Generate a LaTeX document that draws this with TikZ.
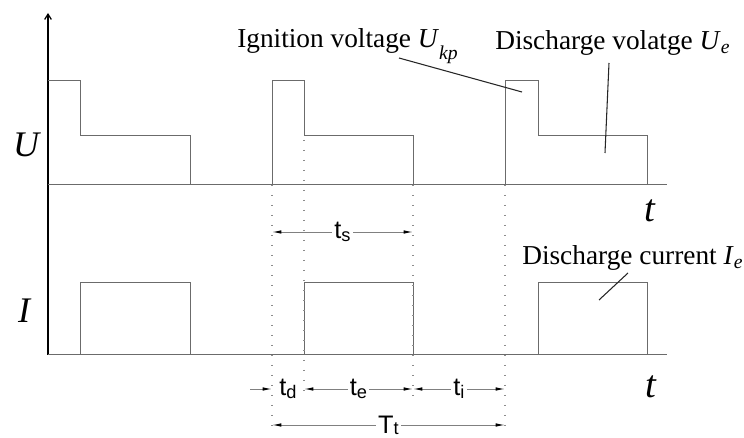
\documentclass[tikz,border=0pt]{standalone}
\usepackage{fontspec}
\setmainfont{Liberation Serif}
\setsansfont{Liberation Sans}
\usetikzlibrary{arrows.meta}
\newcommand{\lowsub}[2][0.3em]{\raisebox{-#1}{\scalebox{0.72}{#2}}}
\tikzset{
  axisline/.style={line width=0.9pt, black},
  waveline/.style={line width=0.75pt, black!58},
  guideline/.style={line width=0.8pt, black!45, dash pattern=on 0.75pt off 6.75pt},
  dimline/.style={line width=0.7pt, black!50},
  dimarrow/.style={dimline, {Latex[length=7pt,width=2.6pt,color=black]}-{Latex[length=7pt,width=2.6pt,color=black]}},
  dimhalf/.style={dimline, -{Latex[length=7pt,width=2.6pt,color=black]}},
  leaderline/.style={line width=0.8pt, black!85},
  biglabel/.style={font=\fontsize{27}{27}\selectfont\itshape, inner sep=0pt},
  timelabel/.style={font=\fontsize{29}{29}\selectfont\itshape, inner sep=0pt},
  notelabel/.style={font=\fontsize{20.5}{20.5}\selectfont, inner sep=0pt, anchor=base west},
  dimlabel/.style={font=\sffamily\fontsize{19}{19}\selectfont, text=black, fill=white, inner sep=1.5pt},
}

\begin{document}
\begin{tikzpicture}[x=0.75pt,y=-0.75pt]
\useasboundingbox (0,0) rectangle (744,438);
% axes
\draw[axisline, -{Straight Barb[length=4pt,width=5pt]}] (48,355) -- (48,13);
\draw[waveline] (48,185) -- (667,185);
\draw[waveline] (48,355) -- (667,355);
% voltage pulses
\draw[waveline] (48,81) -- (80,81) -- (80,136) -- (190,136) -- (190,185);
\draw[waveline] (272,185) -- (272,81) -- (304,81) -- (304,136) -- (413,136) -- (413,185);
\draw[waveline] (505,185) -- (505,81) -- (538,81) -- (538,136) -- (647,136) -- (647,185);
% current pulses
\draw[waveline] (80,355) -- (80,283) -- (190,283) -- (190,355);
\draw[waveline] (304,355) -- (304,283) -- (413,283) -- (413,355);
\draw[waveline] (538,355) -- (538,283) -- (647,283) -- (647,355);
% dotted guides
\draw[guideline] (272,185) -- (272,435);
\draw[guideline] (304,140) -- (304,392);
\draw[guideline] (413,185) -- (413,396);
\draw[guideline] (505,185) -- (505,435);
% axis labels
\node[biglabel] (ulab) at (26,145) {U};
\node[biglabel] (ilab) at (24,311) {I};
\node[timelabel] (tup) at (650,211) {t};
\node[timelabel] (tdown) at (651,387) {t};
% notes with leaders
\node[notelabel] (ign) at (237,48) {Ignition voltage \textit{U}\lowsub[0.42em]{\textit{kp}}};
\node[notelabel] (dvolt) at (495,50) {Discharge volatge \textit{U}\lowsub[0.12em]{\textit{e}}};
\node[notelabel] (dcur) at (522,265) {Discharge current \textit{I}\lowsub[0.12em]{\textit{e}}};
\coordinate (ignA) at (399,58);
\coordinate (ignB) at (522,92);
\coordinate (dvoltA) at (609,63);
\coordinate (dvoltB) at (605,153);
\coordinate (dcurA) at (628,273);
\coordinate (dcurB) at (599,300);
\draw[leaderline] (ignA) -- (ignB);
\draw[leaderline] (dvoltA) -- (dvoltB);
\draw[leaderline] (dcurA) -- (dcurB);
% time spans
\coordinate (ts1) at (272,232);
\coordinate (ts2) at (413,232);
\coordinate (d0) at (250,389);
\coordinate (d1) at (272,389);
\coordinate (d2) at (304,389);
\coordinate (d3) at (413,389);
\coordinate (d4) at (505,389);
\coordinate (tt1) at (272,425);
\coordinate (tt2) at (505,425);
\draw[dimarrow] (ts1) -- node[dimlabel] (tslab) {t\lowsub[0.12em]{s}} (ts2);
\draw[dimhalf] (d0) -- (d1);
\path (d1) -- node[dimlabel] (tdlab) {t\lowsub[0.12em]{d}} (d2);
\draw[dimarrow] (d2) -- node[dimlabel] (telab) {t\lowsub[0.12em]{e}} (d3);
\draw[dimarrow] (d3) -- node[dimlabel] (tilab) {t\lowsub[0.12em]{i}} (d4);
\draw[dimarrow] (tt1) -- node[dimlabel] (ttlab) {T\lowsub[0.05em]{t}} (tt2);
\end{tikzpicture}
\end{document}
